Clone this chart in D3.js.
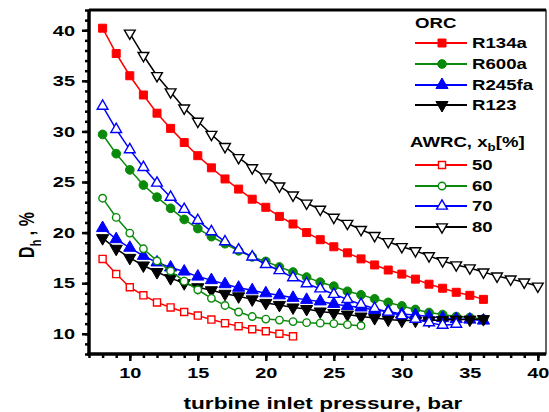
<!DOCTYPE html>
<html>
<head>
<meta charset="utf-8">
<script src="https://cdn.jsdelivr.net/npm/d3@7"></script>
<style>
  body { margin: 0; background: #fff; }
  svg text { font-family: "Liberation Sans", Arial, sans-serif; font-weight: bold; }
</style>
</head>
<body>
<svg id="chart" width="549" height="412"></svg>
<script>
// ORC series (filled markers)
const r134a = [40.2, 37.7, 35.5, 33.6, 31.8, 30.3, 28.9, 27.6, 26.4, 25.3, 24.3, 23.3, 22.5, 21.6, 20.85, 20.0, 19.3, 18.6, 18.0, 17.4, 16.8, 16.3, 15.9, 15.4, 14.9, 14.5, 14.1, 13.8, 13.4];
const r600a = [29.7, 27.8, 26.2, 24.7, 23.5, 22.4, 21.3, 20.4, 19.6, 18.9, 18.2, 17.6, 17.15, 16.6, 16.1, 15.6, 15.1, 14.7, 14.2, 13.85, 13.45, 13.1, 12.75, 12.4, 12.1, 11.9, 11.7, 11.6, 11.45];
const r245fa = [20.45, 19.35, 18.5, 17.7, 17.05, 16.55, 16.15, 15.65, 15.3, 14.9, 14.55, 14.3, 14.0, 13.8, 13.55, 13.35, 13.2, 12.95, 12.75, 12.6, 12.35, 12.2, 11.95, 11.85, 11.7, 11.55, 11.45, 11.4, 11.3];
const r123 = [19.45, 18.4, 17.5, 16.75, 16.1, 15.5, 15.0, 14.6, 14.3, 13.95, 13.7, 13.4, 13.05, 12.85, 12.6, 12.45, 12.2, 12.05, 11.9, 11.7, 11.55, 11.4, 11.3, 11.3, 11.3, 11.35, 11.4, 11.4, 11.45];
const orcStart = 8;

// AWRC series, x_b [%] (open markers)
const xb50 = [17.4, 15.9, 14.6, 13.8, 13.1, 12.6, 12.15, 11.8, 11.4, 11.05, 10.75, 10.45, 10.25, 10.0, 9.75];
const xb60 = [23.4, 21.5, 19.95, 18.4, 17.2, 16.2, 15.2, 14.35, 13.5, 12.8, 12.15, 11.7, 11.45, 11.35, 11.2, 11.1, 11.05, 11.0, 10.9, 10.8];
const xb70 = [32.5, 30.2, 28.2, 26.45, 24.9, 23.5, 22.3, 21.2, 20.1, 19.1, 18.3, 17.6, 16.85, 16.25, 15.55, 14.95, 14.45, 13.9, 13.4, 12.9, 12.5, 12.15, 11.8, 11.45, 11.1, 10.85, 10.95];
const xb80 = [39.7, 37.5, 35.5, 33.9, 32.3, 31.0, 29.7, 28.5, 27.4, 26.4, 25.5, 24.6, 23.7, 22.9, 22.3, 21.5, 20.9, 20.3, 19.7, 19.1, 18.6, 18.2, 17.7, 17.2, 16.8, 16.5, 16.1, 15.7, 15.4, 15.1, 14.7];
const starts = [8, 8, 8, 10];

const xTicks = [10, 15, 20, 25, 30, 35, 40];
const yTicks = [10, 15, 20, 25, 30, 35, 40];

const svg = d3.select("#chart"),
      margin = {top: 10, right: 3, bottom: 58, left: 89},
      width = +svg.attr("width") - margin.left - margin.right,
      height = +svg.attr("height") - margin.top - margin.bottom;

const x = d3.scaleLinear().domain([7, 40.6]).range([0, width]);
const y = d3.scaleLinear().domain([8, 42]).range([height, 0]);

// the picture is stretched sideways, so texts are too
const SX = 1.33;
function stretch(sel) {
  sel.each(function() {
    const t = d3.select(this);
    const tx = +t.attr("x") || 0, ty = +t.attr("y") || 0;
    t.attr("transform", `translate(${tx},${ty}) scale(${SX},1)`).attr("x", 0).attr("y", 0);
  });
}

const g = svg.append("g").attr("transform", `translate(${margin.left},${margin.top})`);

const series = [
  {name: "R134a", vals: r134a, start: orcStart, color: "#ff0000", sym: d3.symbolSquare, fill: true, rot: 0},
  {name: "R600a", vals: r600a, start: orcStart, color: "#0a8a0a", sym: d3.symbolCircle, fill: true, rot: 0},
  {name: "R245fa", vals: r245fa, start: orcStart, color: "#0000ff", sym: d3.symbolTriangle, fill: true, rot: 0},
  {name: "R123", vals: r123, start: orcStart, color: "#000000", sym: d3.symbolTriangle, fill: true, rot: 180},
  {name: "50", vals: xb50, start: starts[0], color: "#ff0000", sym: d3.symbolSquare, fill: false, rot: 0},
  {name: "60", vals: xb60, start: starts[1], color: "#0a8a0a", sym: d3.symbolCircle, fill: false, rot: 0},
  {name: "70", vals: xb70, start: starts[2], color: "#0000ff", sym: d3.symbolTriangle, fill: false, rot: 0},
  {name: "80", vals: xb80, start: starts[3], color: "#000000", sym: d3.symbolTriangle, fill: false, rot: 180}
];

function symPath(s) {
  const size = s.fill ? (s.sym === d3.symbolCircle ? 60 : 64) : (s.sym === d3.symbolCircle ? 44 : 50);
  return d3.symbol().type(s.sym).size(size)();
}

function drawMarker(sel, s) {
  sel.append("path")
     .attr("d", symPath(s))
     .attr("transform", d => `translate(${d[0]},${d[1]}) rotate(${s.rot})`)
     .attr("fill", s.fill ? s.color : "#fff")
     .attr("stroke", s.color)
     .attr("stroke-width", s.fill ? 1 : 1.4);
}

const line = d3.line().x(d => x(d[0])).y(d => y(d[1]));

series.forEach(s => {
  const pts = s.vals.map((v, i) => [s.start + i, v]);
  g.append("path")
   .datum(pts)
   .attr("d", line)
   .attr("fill", "none")
   .attr("stroke", s.color)
   .attr("stroke-width", 1.5);
  const m = g.append("g").selectAll("g").data(pts.map(p => [x(p[0]), y(p[1])])).enter().append("g");
  drawMarker(m, s);
});

// frame
g.append("rect").attr("width", width).attr("height", height)
 .attr("fill", "none").attr("stroke", "#000").attr("stroke-width", 1.2);
g.append("line").attr("x1", 0).attr("x2", width).attr("y1", 0).attr("y2", 0)
 .attr("stroke", "#000").attr("stroke-width", 3);

// axes
const xMinor = d3.range(7, 41, 1);
const yMinor = d3.range(8, 43, 1);

const xAxisG = g.append("g").attr("transform", `translate(0,${height})`);
xAxisG.append("g").call(d3.axisBottom(x).tickValues(xMinor).tickSize(4).tickFormat(""))
  .call(a => a.select(".domain").remove())
  .selectAll("line").attr("stroke-width", 2.5);
xAxisG.append("g").call(d3.axisBottom(x).tickValues(xTicks).tickSize(7).tickPadding(6).tickFormat(d3.format("d")))
  .call(a => a.select(".domain").remove())
  .call(a => a.selectAll("line").attr("stroke-width", 2.5))
  .call(a => a.selectAll("text").attr("font-size", 15).attr("fill", "#000").call(stretch));
xAxisG.append("line").attr("x1", -1.5).attr("x2", width).attr("stroke", "#000").attr("stroke-width", 3.5);

const yAxisG = g.append("g");
yAxisG.append("g").call(d3.axisLeft(y).tickValues(yMinor).tickSize(4).tickFormat(""))
  .call(a => a.select(".domain").remove())
  .selectAll("line").attr("stroke-width", 2.5);
yAxisG.append("g").call(d3.axisLeft(y).tickValues(yTicks).tickSize(7).tickPadding(7).tickFormat(d3.format("d")))
  .call(a => a.select(".domain").remove())
  .call(a => a.selectAll("line").attr("stroke-width", 2.5))
  .call(a => a.selectAll("text").attr("font-size", 15).attr("fill", "#000").call(stretch));
yAxisG.append("line").attr("y1", 0).attr("y2", height + 1.5).attr("stroke", "#000").attr("stroke-width", 3.5);

// axis titles
svg.append("text")
   .attr("x", margin.left + x(24.2))
   .attr("y", 409)
   .attr("text-anchor", "middle")
   .attr("font-size", 17)
   .call(stretch)
   .text("turbine inlet pressure, bar");

const yt = svg.append("text")
   .attr("transform", `translate(34,235) scale(${SX},1) rotate(-90)`)
   .attr("text-anchor", "middle")
   .attr("font-size", 16);
yt.append("tspan").text("D");
yt.append("tspan").attr("font-size", 11).attr("dy", 5).text("h");
yt.append("tspan").attr("dy", -5).text(" , %");

// legend
const lg = svg.append("g").attr("transform", "translate(415,0)");
lg.append("text").attr("x", 0).attr("y", 28).attr("font-size", 14).text("ORC").call(stretch);
const rowY = [43, 64, 85, 105, 165, 186, 206, 227];
series.forEach((s, i) => {
  const ry = rowY[i];
  lg.append("line").attr("x1", 0).attr("x2", 52).attr("y1", ry).attr("y2", ry)
    .attr("stroke", s.color).attr("stroke-width", 1.8);
  const m = lg.append("g").selectAll("g").data([[27, ry]]).enter().append("g");
  drawMarker(m, s);
  lg.append("text").attr("x", 57).attr("y", ry + 5).attr("font-size", 14).text(s.name).call(stretch);
});
const aw = lg.append("text").attr("x", -5).attr("y", 147).attr("font-size", 14).call(stretch);
aw.append("tspan").text("AWRC, x");
aw.append("tspan").attr("font-size", 10).attr("dy", 4).text("b");
aw.append("tspan").attr("dy", -4).text("[%]");
</script>
</body>
</html>
